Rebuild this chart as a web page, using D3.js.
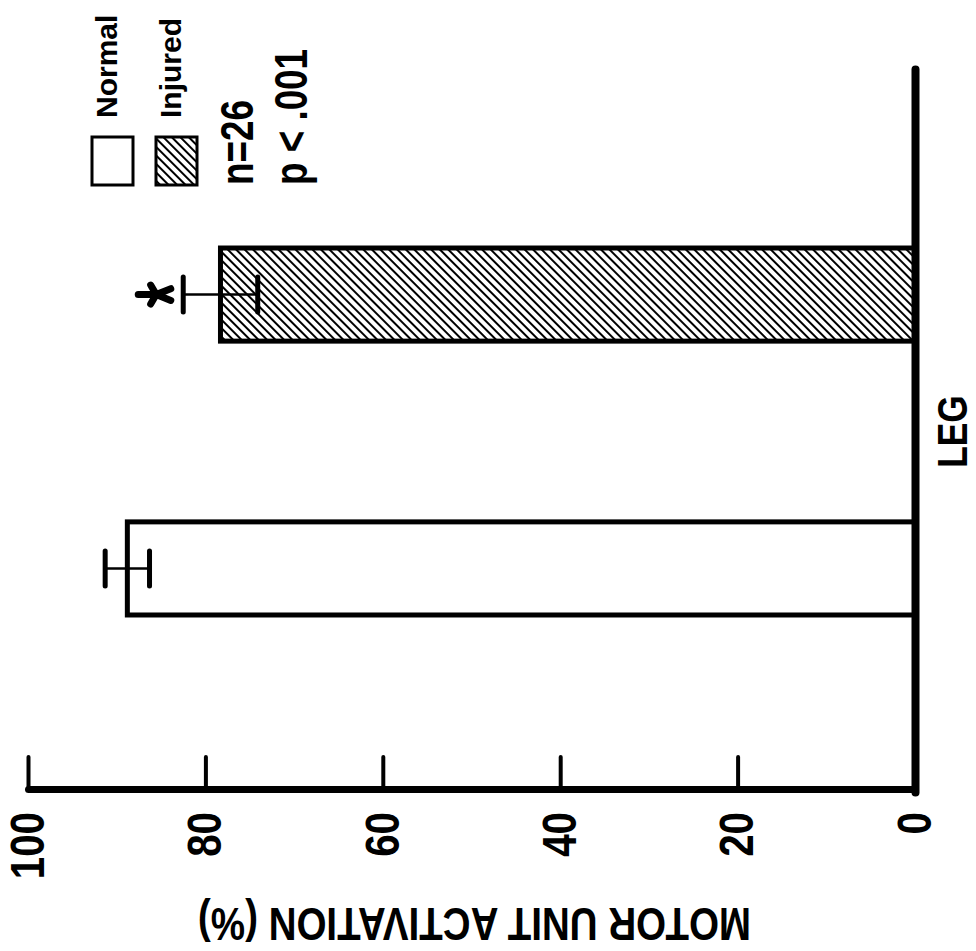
<!DOCTYPE html>
<head>
  <meta charset="utf-8">
  <title>Motor unit activation</title>
  <script src="https://d3js.org/d3.v7.min.js"></script>
  <style>
    body { margin: 0; background: #fff; }
    svg { background-color: #fff; display: block; }
    text { font-family: "Liberation Sans", Arial, sans-serif; font-weight: bold; fill: #000; }
  </style>
</head>

<body>
  <script>
    // values
    var categories = ["LEG"];
    var groups = ["Normal", "Injured"];
    var means = [88.8, 78.3];
    var errors = [2.5, 4.2];
    var significant = [false, true];
    var valueTicks = [0, 20, 40, 60, 80, 100];
    var statLines = ["n=26", "p < .001"];

    var W = 976, H = 951;

    var svg = d3.select("body").append("svg")
      .attr("width", W)
      .attr("height", H);

    // the whole figure is an ordinary column chart turned a quarter turn
    var g = svg.append("g")
      .attr("transform", "translate(0," + H + ") rotate(-90)");

    // no condensed face installed, so squeeze the glyphs instead
    function narrow(sel, factor) {
      sel.each(function() {
        var w = this.getComputedTextLength();
        d3.select(this)
          .attr("textLength", w * factor)
          .attr("lengthAdjust", "spacingAndGlyphs");
      });
    }

    var defs = svg.append("defs");
    var hatch = defs.append("pattern")
      .attr("id", "hatch")
      .attr("patternUnits", "userSpaceOnUse")
      .attr("width", 6)
      .attr("height", 10)
      .attr("patternTransform", "rotate(45)");
    hatch.append("rect").attr("width", 6).attr("height", 10).attr("fill", "#fff");
    hatch.append("line")
      .attr("x1", 3).attr("x2", 3)
      .attr("y1", 0).attr("y2", 10)
      .attr("stroke", "#000")
      .attr("stroke-width", 2);

    var y = d3.scaleLinear().domain([0, 100]).range([915, 28]);
    var x0 = d3.scaleBand().domain(categories).range([158, 881]);
    var x1 = d3.scaleBand().domain(groups)
      .range([0, x0.bandwidth()])
      .paddingInner(0.66)
      .paddingOuter(0.65);

    var data = groups.map(function(k, i) {
      return {key: k, mean: means[i], err: errors[i], star: significant[i]};
    });

    // value axis
    var yAxis = g.append("g")
      .attr("transform", "translate(161,0)")
      .call(d3.axisLeft(y).tickValues(valueTicks).tickSize(-33).tickSizeOuter(0).tickPadding(22));
    yAxis.attr("font-family", null).attr("font-size", null);
    yAxis.select(".domain").attr("stroke-width", 7).attr("stroke-linecap", "round");
    yAxis.selectAll(".tick line").attr("stroke-width", 4).attr("stroke-linecap", "round");
    yAxis.selectAll(".tick text")
      .attr("font-size", 48)
      .attr("fill", "#000")
      .call(narrow, 0.84);

    g.append("text")
      .attr("font-size", 47)
      .attr("text-anchor", "middle")
      .attr("transform", "translate(43," + ((y(0) + y(100)) / 2 + 3) + ") rotate(-90)")
      .text("MOTOR UNIT ACTIVATION (%)")
      .call(narrow, 0.82);

    // bars
    var bars = g.append("g")
      .selectAll("g")
      .data(data)
      .enter().append("g");

    bars.append("rect")
      .attr("x", d => x0("LEG") + x1(d.key))
      .attr("y", d => y(d.mean))
      .attr("width", x1.bandwidth())
      .attr("height", d => y(0) - y(d.mean))
      .attr("fill", d => d.key === "Injured" ? "url(#hatch)" : "#fff")
      .attr("stroke", "#000")
      .attr("stroke-width", 5);

    function cx(d) { return x0("LEG") + x1(d.key) + x1.bandwidth() / 2; }

    bars.append("line")
      .attr("x1", cx).attr("x2", cx)
      .attr("y1", d => y(d.mean - d.err))
      .attr("y2", d => y(d.mean + d.err))
      .attr("stroke", "#000")
      .attr("stroke-width", 2.5);

    bars.selectAll("line.cap")
      .data(d => [d.mean - d.err, d.mean + d.err].map(v => ({c: cx(d), v: v})))
      .enter().append("line")
      .attr("class", "cap")
      .attr("x1", d => d.c - 17.5)
      .attr("x2", d => d.c + 17.5)
      .attr("y1", d => y(d.v))
      .attr("y2", d => y(d.v))
      .attr("stroke", "#000")
      .attr("stroke-width", 5)
      .attr("stroke-linecap", "round");

    // asterisk over the significant bar, drawn as five arms
    var arms = [-90, -18, 54, 126, 198];
    bars.filter(d => d.star).append("path")
      .attr("transform", d => "translate(" + cx(d) + "," + (y(d.mean + d.err) - 27) + ")")
      .attr("d", function() {
        var p = d3.path();
        arms.forEach(function(a) {
          var r = a * Math.PI / 180;
          p.moveTo(0, 0);
          p.lineTo(Math.cos(r) * 10, Math.sin(r) * 18);
        });
        return p.toString();
      })
      .attr("stroke", "#000")
      .attr("stroke-width", 7)
      .attr("stroke-linecap", "round")
      .attr("fill", "none");

    // category axis
    var xAxis = g.append("g")
      .attr("transform", "translate(0,915)")
      .call(d3.axisBottom(x0).tickSize(0).tickSizeOuter(0).tickPadding(22));
    xAxis.attr("font-family", null).attr("font-size", null);
    xAxis.select(".domain").attr("stroke-width", 8).attr("stroke-linecap", "round");
    xAxis.selectAll(".tick text")
      .attr("font-size", 42)
      .attr("fill", "#000")
      .call(narrow, 0.84);

    // legend
    var legend = g.append("g");
    var item = legend.selectAll("g")
      .data(groups)
      .enter().append("g")
      .attr("transform", (d, i) => "translate(766," + (92 + i * 64) + ")");
    item.append("rect")
      .attr("width", 48)
      .attr("height", 41)
      .attr("fill", d => d === "Injured" ? "url(#hatch)" : "#fff")
      .attr("stroke", "#000")
      .attr("stroke-width", 3);
    item.append("text")
      .attr("font-size", 30)
      .attr("x", 67)
      .attr("y", 25)
      .text(d => d);

    legend.selectAll("text.stat")
      .data(statLines)
      .enter().append("text")
      .attr("class", "stat")
      .attr("font-size", 46)
      .attr("x", 766)
      .attr("y", (d, i) => 253 + i * 54)
      .text(d => d)
      .call(narrow, 0.8);
  </script>
</body>
